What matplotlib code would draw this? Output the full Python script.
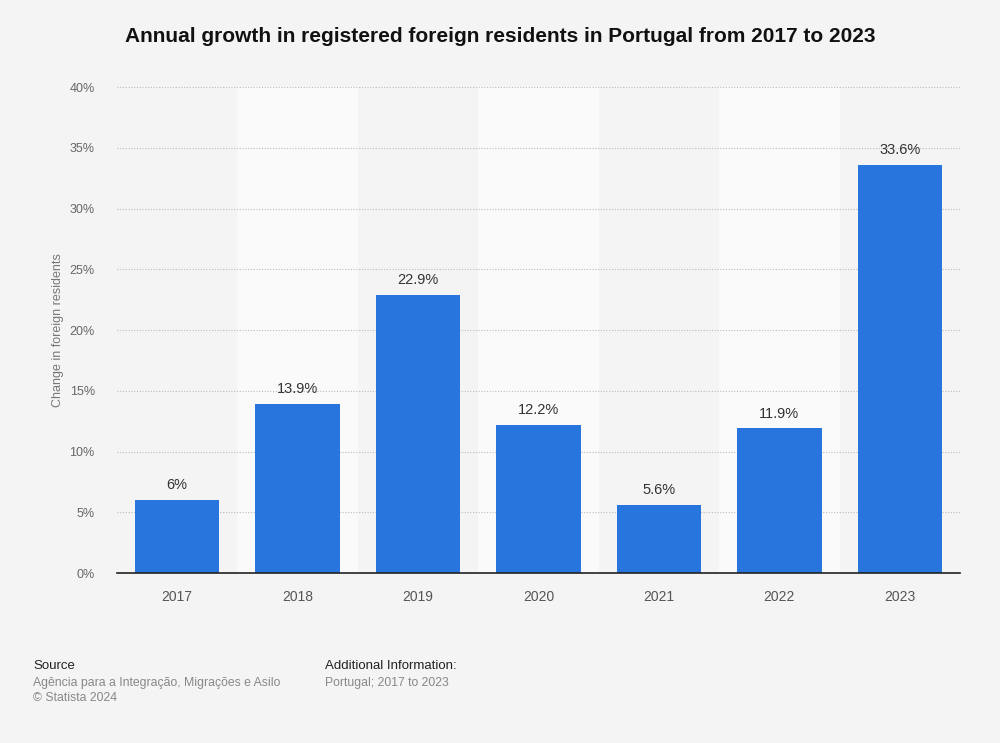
import matplotlib.pyplot as plt
from matplotlib.ticker import FuncFormatter

years = ["2017", "2018", "2019", "2020", "2021", "2022", "2023"]
growth = [6.0, 13.9, 22.9, 12.2, 5.6, 11.9, 33.6]
labels = ["6%", "13.9%", "22.9%", "12.2%", "5.6%", "11.9%", "33.6%"]

plt.rcParams['font.family'] = ['Liberation Sans', 'DejaVu Sans']

fig = plt.figure(figsize=(10, 7.43), dpi=100, facecolor="#f4f4f4")
ax = fig.add_axes([0.117, 0.2288, 0.843, 0.6541])
ax.set_facecolor("#f4f4f4")

x = range(len(years))
# alternating light bands
for i in x:
    if i % 2 == 1:
        ax.axvspan(i - 0.5, i + 0.5, color="#fafafa", zorder=0, lw=0)

ax.bar(x, growth, width=0.7, color="#2876dd", zorder=3)
for i, v in enumerate(growth):
    ax.text(i, v + 0.65, labels[i], ha="center", va="bottom", fontsize=10.5, color="#333333", zorder=4)

ax.set_xlim(-0.5, 6.5)
ax.set_ylim(0, 40)
ax.set_yticks(range(0, 41, 5))
ax.yaxis.set_major_formatter(FuncFormatter(lambda v, p: f"{int(v)}%"))
ax.set_xticks(list(x))
ax.set_xticklabels(years)
ax.grid(axis="y", linestyle=(0, (1, 1.5)), color="#bbbbbb", lw=0.8, zorder=1)
ax.tick_params(axis="y", length=0, pad=16, labelsize=9, labelcolor="#666666")
ax.tick_params(axis="x", length=0, pad=12, labelsize=10, labelcolor="#555555")
for s in ["top", "right", "left"]:
    ax.spines[s].set_visible(False)
ax.spines["bottom"].set_color("#222222")
ax.spines["bottom"].set_linewidth(1.2)
ax.spines["bottom"].set_zorder(5)
ax.set_ylabel("Change in foreign residents", fontsize=9, color="#777777", labelpad=4)

fig.text(0.5, 0.951, "Annual growth in registered foreign residents in Portugal from 2017 to 2023",
         ha="center", va="center", fontsize=15, fontweight="bold", color="#111111")

fig.text(0.033, 0.104, "Source", fontsize=9.5, color="#222222", va="center")
fig.text(0.033, 0.081, "Agência para a Integração, Migrações e Asilo", fontsize=8.8, color="#888888", va="center")
fig.text(0.033, 0.060, "© Statista 2024", fontsize=8.8, color="#888888", va="center")
fig.text(0.325, 0.104, "Additional Information:", fontsize=9.5, color="#222222", va="center")
fig.text(0.325, 0.081, "Portugal; 2017 to 2023", fontsize=8.8, color="#888888", va="center")

fig.savefig("out.png", dpi=100, facecolor=fig.get_facecolor())
